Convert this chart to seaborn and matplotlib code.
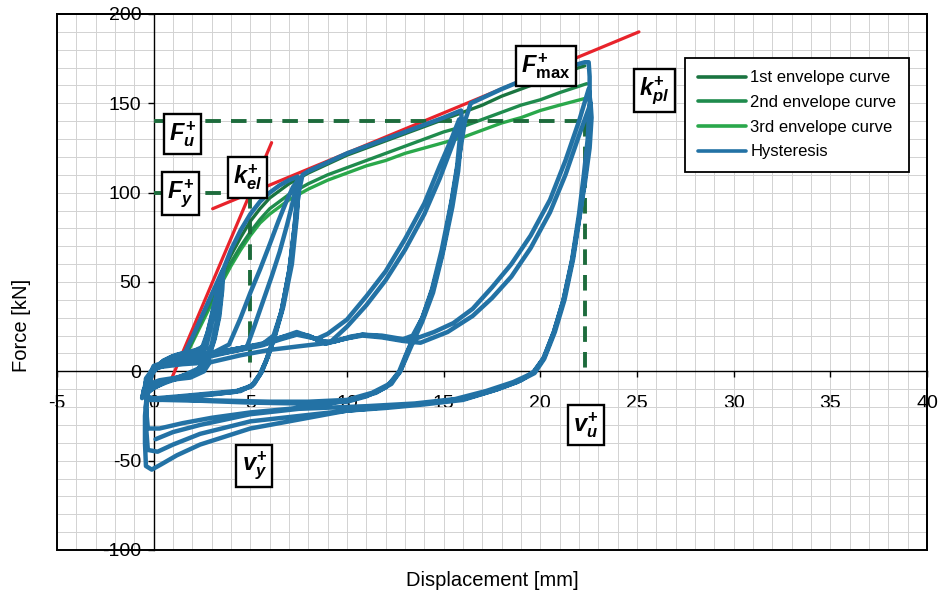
import numpy as np
import matplotlib
matplotlib.use("Agg")
import matplotlib.pyplot as plt
from matplotlib.lines import Line2D
from matplotlib.patches import Rectangle
import seaborn as sns

# ---------------------------------------------------------------
# Measured data: displacement [mm] / force [kN]
# ---------------------------------------------------------------

# initial small-amplitude cycles
small_x = [0.0, 0.4, 0.9, 1.5, 2.1, 2.5, 2.6, 2.3, 1.6, 0.9, 0.3, -0.2, -0.5, -0.55, -0.3,
           0.0, 0.5, 1.1, 1.8, 2.4, 2.8, 2.9, 2.6, 1.9, 1.1, 0.4, -0.1, -0.5, -0.6, -0.4, 0.0]
small_y = [0.0, 5, 8, 10, 10, 8, 4, 0, -3, -4, -5, -7, -10, -14, -6,
           0, 6, 9, 11, 12, 10, 5, 0, -3.5, -4.5, -5.5, -8, -11, -15, -6, 1]

# cycles to about 3.5 mm
c03_1_x = [0.6, 1.2, 1.6, 2.0, 2.5, 3.0, 3.5, 3.6, 3.55, 3.4, 3.15, 2.85, 2.4, 1.6, 0.8, 0.1, -0.4]
c03_1_y = [4, 6, 10, 19, 31, 43, 55, 57, 46, 31, 18, 8, 2, -2, -5, -8, -13]
c03_2_x = [-0.35, 0.0, 0.8, 1.8, 2.5, 2.8, 3.1, 3.4, 3.55, 3.5, 3.35, 3.1, 2.8, 2.3, 1.5, 0.7, 0.0, -0.45]
c03_2_y = [-5, 1, 6, 10, 13, 22, 36, 49, 54, 44, 30, 17, 7, 1, -3, -6, -9, -12]
c03_3_x = [-0.4, 0.0, 1.0, 2.0, 2.7, 2.95, 3.2, 3.45, 3.42, 3.25, 3.0, 2.7, 2.2, 1.4, 0.6, -0.1, -0.45]
c03_3_y = [-4, 2, 6, 9, 13, 24, 37, 50, 40, 27, 15, 6, 0, -3, -6, -10, -13]

# cycles to about 7.4 mm
c07_1_x = [-0.3, 0.0, 0.8, 1.8, 2.6, 3.0, 3.3, 3.6, 4.0, 4.5, 5.0, 5.5, 6.0, 6.5, 7.0, 7.45,
           7.48, 7.4, 7.15, 6.7, 6.25, 5.9, 5.6, 5.2, 4.5, 3.0, 1.5, 0.4, -0.3]
c07_1_y = [-5, 1, 6, 10, 14, 30, 45, 57, 68, 79, 88, 95, 100, 104, 107, 109,
           100, 86, 60, 36, 19, 8, 0, -7, -11, -13, -15, -16, -16]
c07_2_x = [-0.4, 0.0, 1.0, 2.0, 3.0, 3.9, 4.5, 5.0, 5.5, 6.0, 6.45, 6.86, 7.2, 7.4,
           7.42, 7.3, 7.05, 6.65, 6.2, 5.85, 5.55, 5.1, 4.3, 2.8, 1.3, 0.2, -0.4]
c07_2_y = [-8, 1, 5, 8, 10, 15, 30, 44, 57, 71, 84, 95, 103, 106,
           96, 82, 58, 35, 18, 7, -1, -8, -11, -12.5, -14, -15, -15]
c07_3_x = [-0.4, 0.0, 1.2, 2.4, 3.6, 4.8, 5.2, 5.65, 6.1, 6.52, 6.9, 7.2, 7.38,
           7.4, 7.28, 7.02, 6.62, 6.18, 5.82, 5.5, 5.05, 4.2, 2.7, 1.2, 0.1, -0.4]
c07_3_y = [-7, 2, 5, 7, 10, 13, 25, 39, 53, 67, 82, 95, 104,
           95, 80, 57, 34, 17, 6, -1.5, -8.5, -11.5, -13, -14.5, -15.5, -14]

# cycles to about 16 mm
c16_1_x = [-0.4, 0.0, 1.0, 2.0, 2.9, 4.0, 5.0, 5.6, 6.2, 6.6, 7.0, 7.3, 7.5, 7.7, 8.0, 9.0, 10.0,
           11.0, 12.0, 13.0, 14.0, 15.0, 15.9,
           15.95, 15.8, 15.5, 15.0, 14.5, 14.0, 13.5, 13.1, 12.8, 12.3, 11.5, 10.2, 8.5, 7.0,
           5.0, 3.0, 1.5, 0.3, -0.3]
c16_1_y = [-6, 2, 6, 8, 9.5, 12, 14, 15, 20, 33, 55, 80, 100, 110, 112, 117, 122,
           126, 130, 134, 138, 142, 146,
           138, 120, 100, 70, 48, 32, 20, 10, 1, -7, -12, -16, -19, -21,
           -23, -26, -29, -32, -32]
c16_2_x = [-0.4, -0.3, 0.0, 1.0, 2.9, 4.5, 5.6, 6.6, 7.4, 7.9, 8.4, 9.0, 10.0, 11.0, 12.0, 13.0,
           14.0, 14.8, 15.4, 15.8,
           15.85, 15.7, 15.4, 14.9, 14.4, 13.9, 13.4, 13.0, 12.7, 12.2, 11.3, 10.0, 8.0, 6.0,
           4.0, 2.0, 0.5, -0.4]
c16_2_y = [-20, -8, 2, 6, 9.5, 13, 15, 19, 21, 20, 18, 21, 29, 42, 56, 74,
           94, 115, 130, 141,
           132, 115, 95, 68, 46, 30, 18, 8, 0, -7, -12, -16, -17, -17,
           -16.5, -16, -15.5, -15]
c16_3_x = [-0.4, 0.0, 1.5, 2.9, 4.5, 6.0, 7.5, 9.1, 10.0, 11.0, 12.0, 13.0, 14.0, 14.8, 15.5, 15.85,
           15.9, 15.75, 15.45, 14.95, 14.45, 13.9, 13.4, 13.0, 12.7, 12.0, 11.0, 10.0, 7.5,
           5.0, 2.5, 0.5, -0.4]
c16_3_y = [-8, 2, 4, 5, 9, 12, 14, 16, 25, 37, 51, 68, 88, 108, 128, 139,
           130, 112, 92, 66, 44, 28, 16, 6, -1, -9, -14, -17, -18,
           -17.5, -16.5, -16, -15]

# cycles to about 22.5 mm
c22_1_x = [-0.4, 0.0, 1.0, 2.9, 4.5, 5.6, 6.6, 7.4, 8.2, 8.9, 9.8, 10.8, 11.8, 12.9, 13.4, 13.9,
           14.4, 14.9, 15.4, 15.8, 16.1, 16.4, 17.0, 18.0, 19.0, 20.0, 21.0, 21.8, 22.3, 22.5,
           22.55, 22.55, 22.45, 22.25, 22.0, 21.65, 21.2, 20.7, 20.2, 19.7, 19.0, 17.8, 16.2,
           14.0, 12.0, 10.0, 7.5, 5.0, 2.4, 1.2, 0.4, -0.1, -0.4]
c22_1_y = [-7, 3, 7, 10, 13, 15.5, 19, 22, 19, 15.5, 18, 20.5, 20, 18, 20, 30,
           45, 65, 92, 120, 140, 150, 153, 158, 162.5, 166, 169, 171.5, 173, 173,
           165, 150, 130, 110, 88, 63, 40, 22, 8, 0, -5, -10, -15,
           -18, -20, -22, -27, -32, -41, -47, -52, -55, -53]
c22_2_x = [-0.45, -0.45, -0.35, 0.0, 1.0, 2.9, 4.5, 5.6, 6.6, 7.4, 8.0, 8.6, 9.3, 10.2, 10.8,
           11.8, 12.9, 13.6, 14.5, 15.5, 16.5, 17.5, 18.5, 19.5, 20.5, 21.3, 22.0, 22.5,
           22.6, 22.55, 22.35, 22.05, 21.7, 21.25, 20.75, 20.2, 19.7, 18.8, 17.5, 16.0,
           14.0, 12.0, 10.0, 7.5, 5.0, 2.4, 1.0, 0.2, -0.3]
c22_2_y = [-40, -25, -12, 2, 6.5, 9.5, 12.5, 15, 18.5, 21, 20, 17, 16.5, 19.5, 20.5,
           19.5, 17.5, 18.5, 22, 27, 35, 47, 60, 76, 96, 118, 140, 158,
           150, 135, 112, 88, 63, 40, 22, 7, -1, -6, -11, -16,
           -18.5, -20.5, -22, -25, -28, -35, -41, -45, -44]
c22_3_x = [-0.4, -0.35, 0.0, 1.0, 2.9, 4.5, 5.6, 6.6, 7.4, 8.3, 9.0, 10.0, 10.8, 11.8, 12.9,
           13.8, 15.2, 16.5, 17.5, 18.5, 19.5, 20.5, 21.3, 22.0, 22.6,
           22.65, 22.55, 22.3, 22.0, 21.65, 21.2, 20.7, 20.15, 19.6, 18.6, 17.2, 15.6,
           13.5, 11.0, 7.5, 5.0, 2.4, 1.0, 0.1]
c22_3_y = [-30, -12, 2, 6, 9, 12, 14.5, 18, 20.5, 18.5, 16, 18.5, 20, 19, 17,
           16, 22, 31, 41, 53, 69, 89, 110, 132, 150,
           142, 125, 105, 85, 62, 40, 22, 7, -1, -6, -11, -15.5,
           -18, -19.5, -21, -24, -30, -34, -38]

# envelope curves
env1_x = [1.5, 2.0, 2.5, 3.0, 3.5, 4.0, 4.5, 5.0, 5.5, 6.0, 6.5, 7.0, 7.5, 8.0, 9.0, 10.0, 11.0,
          12.0, 13.0, 14.0, 15.0, 16.0, 17.0, 18.0, 19.0, 20.0, 21.0, 22.0, 22.3]
env1_y = [8, 19, 31, 43, 54, 65, 75, 84, 91, 97, 101, 105, 108, 111, 116, 121, 125,
          129, 133, 137, 141, 145, 149, 154, 158, 162, 166, 170, 171]
env2_x = [1.6, 2.0, 2.5, 3.0, 3.5, 4.0, 4.5, 5.0, 5.5, 6.0, 6.5, 7.0, 7.5, 8.0, 9.0, 10.0, 11.0,
          12.0, 13.0, 14.0, 15.0, 16.0, 17.0, 18.0, 19.0, 20.0, 21.0, 22.4]
env2_y = [8, 17, 29, 40, 51, 61, 70, 78, 85, 91, 95, 99, 102, 105, 110, 114, 118,
          122, 126, 130, 134, 137, 141, 145, 149, 152, 156, 161]
env3_x = [1.6, 2.0, 2.5, 3.0, 3.5, 4.0, 4.5, 5.0, 5.5, 6.0, 6.5, 7.0, 7.5, 8.0, 9.0, 10.0, 11.0,
          12.0, 13.0, 14.0, 15.0, 16.0, 17.0, 18.0, 19.0, 20.0, 21.0, 22.4]
env3_y = [7, 16, 27, 38, 49, 59, 68, 76, 83, 88, 92, 96, 99, 102, 107, 111, 115,
          118, 122, 125, 128, 131, 135, 139, 142, 146, 149, 153]

# bilinear idealisation
k_el_x = [0.95, 6.1]
k_el_y = [-3.5, 128]
k_pl_x = [3.05, 25.1]
k_pl_y = [91, 190]
F_y, F_u = 100, 140
v_y, v_u = 5.0, 22.3

x_ticks = [-5, 0, 5, 10, 15, 20, 25, 30, 35, 40]
y_ticks = [-100, -50, 0, 50, 100, 150, 200]
legend_labels = ["1st envelope curve", "2nd envelope curve", "3rd envelope curve", "Hysteresis"]

# ---------------------------------------------------------------
BLUE = "#2372a5"
ENV_COLORS = ["#1a7440", "#1f8b4d", "#2aa84b"]
RED = "#e8232b"
DASH = "#1d6b3c"

sns.set_theme(style="white")
plt.rcParams["font.family"] = ["Liberation Sans", "DejaVu Sans"]
plt.rcParams["text.color"] = "black"
plt.rcParams["axes.labelcolor"] = "black"
plt.rcParams["axes.unicode_minus"] = False
plt.rcParams["mathtext.fontset"] = "custom"
plt.rcParams["mathtext.it"] = "Liberation Sans:italic:bold"
plt.rcParams["mathtext.rm"] = "Liberation Sans:bold"
plt.rcParams["mathtext.bf"] = "Liberation Sans:bold"

fig = plt.figure(figsize=(9.39, 5.96), dpi=100)
ax = fig.add_axes([57 / 939, 46 / 596, 870 / 939, 536 / 596])
ax.set_xlim(-5, 40)
ax.set_ylim(-100, 200)

# grid every 1 mm / 10 kN
ax.set_xticks(x_ticks)
ax.set_yticks(y_ticks)
ax.set_xticks(np.arange(-5, 41, 1), minor=True)
ax.set_yticks(np.arange(-100, 201, 10), minor=True)
ax.grid(which="both", color="#d2d2d2", lw=0.7)
ax.set_axisbelow(True)
ax.tick_params(which="minor", length=0)
ax.tick_params(axis="y", which="major", left=True, direction="out", length=4, width=1,
               pad=5, labelsize=14, colors="black")
ax.tick_params(axis="x", which="major", bottom=True, direction="out", length=4, width=1,
               pad=13, labelsize=14, colors="black")

# axes crossing at the origin, framed plot area
ax.spines["left"].set_position(("data", 0))
ax.spines["bottom"].set_position(("data", 0))
for side in ["left", "bottom"]:
    ax.spines[side].set_color("black")
    ax.spines[side].set_linewidth(1.0)
for side in ["top", "right"]:
    ax.spines[side].set_color("black")
    ax.spines[side].set_linewidth(1.4)
ax.add_patch(Rectangle((0, 0), 1, 1, transform=ax.transAxes, fill=False, ec="black",
                       lw=1.4, zorder=6, clip_on=False))

# envelope curves
for ex, ey, col in [(env3_x, env3_y, ENV_COLORS[2]), (env2_x, env2_y, ENV_COLORS[1]),
                    (env1_x, env1_y, ENV_COLORS[0])]:
    sns.lineplot(x=ex, y=ey, sort=False, estimator=None, color=col, lw=2.4, ax=ax,
                 zorder=2, legend=False)

# bilinear lines
sns.lineplot(x=k_el_x, y=k_el_y, sort=False, estimator=None, color=RED, lw=2.3, ax=ax,
             zorder=3, legend=False)
sns.lineplot(x=k_pl_x, y=k_pl_y, sort=False, estimator=None, color=RED, lw=2.3, ax=ax,
             zorder=3, legend=False)

dash_style = dict(color=DASH, lw=2.8, linestyle=(0, (4, 2.6)), zorder=3)
ax.plot([0, v_y], [F_y, F_y], **dash_style)
ax.plot([0, v_u], [F_u, F_u], **dash_style)
ax.plot([v_y, v_y], [F_y, 0], **dash_style)
ax.plot([v_u, v_u], [F_u, 0], **dash_style)

# hysteresis path
hyst_x = np.concatenate([small_x, c03_1_x, c03_2_x, c03_3_x, c07_1_x, c07_2_x, c07_3_x,
                         c16_1_x, c16_2_x, c16_3_x, c22_1_x, c22_2_x, c22_3_x])
hyst_y = np.concatenate([small_y, c03_1_y, c03_2_y, c03_3_y, c07_1_y, c07_2_y, c07_3_y,
                         c16_1_y, c16_2_y, c16_3_y, c22_1_y, c22_2_y, c22_3_y])
sns.lineplot(x=hyst_x, y=hyst_y, sort=False, estimator=None, color=BLUE, lw=3.2, ax=ax,
             zorder=4, legend=False, solid_joinstyle="round", solid_capstyle="round")

ax.set_xlabel("")
ax.set_ylabel("")

# labelled characteristic values
def tag(x, y, s):
    ax.text(x, y, s, ha="center", va="center", fontsize=17, zorder=8,
            bbox=dict(boxstyle="square,pad=0.22", fc="white", ec="black", lw=1.7))

tag(1.5, 133, r"$F^{+}_{u}$")
tag(1.4, 99.5, r"$F^{+}_{y}$")
tag(4.86, 108.5, r"$k^{+}_{el}$")
tag(20.3, 171, r"$F^{+}_{\mathrm{max}}$")
tag(25.9, 157, r"$k^{+}_{pl}$")
tag(5.2, -53, r"$v^{+}_{y}$")
tag(22.35, -30, r"$v^{+}_{u}$")

handles = [Line2D([], [], color=c, lw=2.6) for c in ENV_COLORS] + [Line2D([], [], color=BLUE, lw=2.6)]
leg = ax.legend(handles, legend_labels, loc="upper left", bbox_to_anchor=(0.722, 0.918),
                borderaxespad=0, frameon=True, fancybox=False, edgecolor="black",
                fontsize=12, handlelength=2.9, handletextpad=0.25, labelspacing=0.58,
                borderpad=0.75, framealpha=1)
leg.get_frame().set_linewidth(1.3)
leg.set_zorder(9)

fig.text(22 / 939, 1 - 325 / 596, "Force [kN]", rotation=90, ha="center", va="center",
         fontsize=14.5)
fig.text(492 / 939, 1 - 580 / 596, "Displacement [mm]", ha="center", va="center",
         fontsize=14.5)

fig.savefig("out.png", dpi=100, facecolor="white")
